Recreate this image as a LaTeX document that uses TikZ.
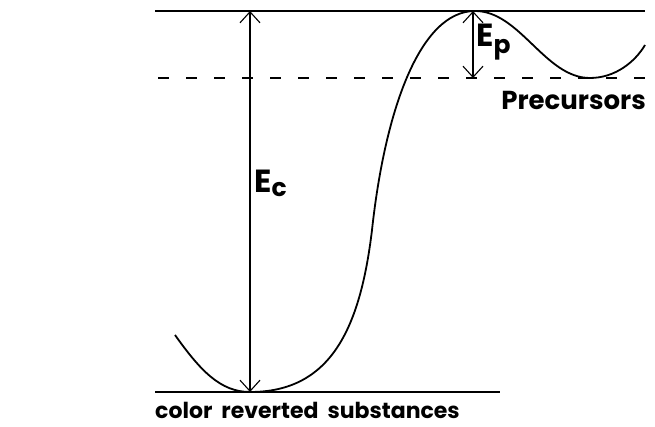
\documentclass[tikz,border=0pt]{standalone}
\usepackage{fontspec}
\setmainfont{Poppins}
\usetikzlibrary{arrows.meta}

\begin{document}
\begin{tikzpicture}[x=1pt, y=-1pt,
    level/.style={line width=1.6pt},
    gap/.style={line width=1.1pt, {Straight Barb[length=11pt, width=20pt]}-{Straight Barb[length=11pt, width=20pt]}},
    lbl/.style={font=\fontsize{32}{34}\selectfont\bfseries, inner sep=0pt}]
        \useasboundingbox (0,0) rectangle (655,427);

        % Energy levels
        \draw[level] (155,11) -- (645,11);
        \draw[line width=1.3pt, dash pattern=on 11pt off 17pt] (158,78) -- (645,78);
        \draw[level] (155,392) -- (500,392);

        % Potential curve
        \draw[line width=1.8pt] (175,335) .. controls (200,370) and (220,392) .. (250,392)
            .. controls (330,392) and (360,330) .. (372,230)
            .. controls (385,110) and (420,11) .. (475,11)
            .. controls (520,11) and (545,78) .. (590,78)
            .. controls (615,78) and (635,62) .. (645,45);

        % Activation energies
        \coordinate (c_top) at (250,11);
        \coordinate (c_bot) at (250,392);
        \coordinate (p_top) at (473,11);
        \coordinate (p_bot) at (473,78);
        \draw[gap] (c_top) -- (c_bot);
        \draw[gap] (p_top) -- (p_bot);

        \node[lbl, anchor=west] (ec) at (254,183) {E\raisebox{-4pt}{\fontsize{25}{27}\selectfont c}};
        \node[lbl, anchor=west] (ep) at (476,42) {E\raisebox{-7pt}{\fontsize{25}{27}\selectfont p}};
        \node[font=\fontsize{26}{28}\selectfont\bfseries, inner sep=0pt, anchor=east] (prec) at (646,100) {Precursors};
        \node[font=\fontsize{22}{25}\selectfont\bfseries, inner sep=0pt, anchor=west] (crs) at (155,410) {color\hspace{9pt}reverted\hspace{9pt}substances};
\end{tikzpicture}
\end{document}
